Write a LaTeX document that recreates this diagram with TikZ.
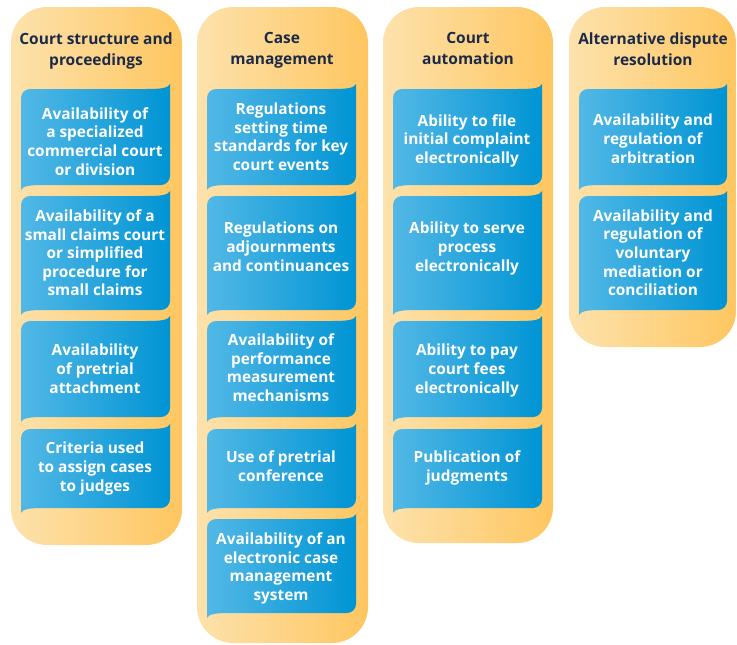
\documentclass[tikz,border=0pt]{standalone}
\usepackage{fontspec}
\setmainfont{Open Sans}
\definecolor{colL}{HTML}{FDE2AC}
\definecolor{colR}{HTML}{FEC660}
\definecolor{blL}{HTML}{52B8E6}
\definecolor{blM}{HTML}{08A3DE}
\definecolor{blR}{HTML}{0094D4}
\definecolor{navy}{HTML}{1B2A48}
\tikzset{
  colfill/.style={left color=colL, right color=colR, rounded corners=36pt},
  bluefill/.style={left color=blL, middle color=blM, right color=blR},
  boxtext/.style={text=white, align=center, inner sep=0pt, yshift=-3.5pt, font=\bfseries\fontsize{15.4}{18.6}\selectfont,
    execute at begin node=\strut, execute at end node=\strut},
  titletext/.style={text=navy, align=center, inner sep=0pt, yshift=-3.5pt, font=\bfseries\fontsize{15.5}{21}\selectfont,
    execute at begin node=\strut, execute at end node=\strut},
}
\newcommand\bbox[4]{% L R T B
  \path[bluefill] (#1,{#3+9}) .. controls (#1,{#3+4}) and ({#1+4},#3) .. ({#1+9},#3)
    -- ({#2-24},#3) .. controls ({#2-8},#3) and ({#2-2},{#3-1}) .. (#2,{#3-5})
    -- (#2,{#4-9}) .. controls (#2,{#4-4}) and ({#2-4},#4) .. ({#2-9},#4)
    -- ({#1+24},#4) .. controls ({#1+8},#4) and ({#1+2},{#4+1}) .. (#1,{#4+5}) -- cycle;}
\begin{document}
\begin{tikzpicture}[x=1pt,y=-1pt]
\useasboundingbox (0,0) rectangle (737,645);
% columns
\path[colfill] (11,7) rectangle (182,545);
\path[colfill] (197,7) rectangle (368,643);
\path[colfill] (383,7) rectangle (553,543);
\path[colfill] (569,7) rectangle (736,347);
% column 1
\bbox{21}{170}{89}{185}
\bbox{21}{170}{196}{310}
\bbox{21}{170}{321}{417}
\bbox{21}{170}{429}{508}
% column 2
\bbox{207}{356}{89}{185}
\bbox{207}{356}{196}{310}
\bbox{207}{356}{321}{417}
\bbox{207}{356}{429}{508}
\bbox{207}{356}{519}{613}
% column 3
\bbox{393}{542}{89}{185}
\bbox{393}{542}{196}{310}
\bbox{393}{542}{321}{417}
\bbox{393}{542}{429}{508}
% column 4
\bbox{579}{727}{89}{185}
\bbox{579}{727}{196}{310}
% titles
\node[titletext] (t1) at (96,48.5) {Court structure and\\proceedings};
\node[titletext] (t2) at (282,48.5) {Case\\management};
\node[titletext] (t3) at (468,48.5) {Court\\automation};
\node[titletext] (t4) at (653,48.5) {Alternative dispute\\resolution};
% column 1 texts
\node[boxtext] (a1) at (95,140.5) {Availability of\\a specialized\\commercial court\\or division};
\node[boxtext] (a2) at (95,252) {Availability of a\\small claims court\\or simplified\\procedure for\\small claims};
\node[boxtext] (a3) at (95,368) {Availability\\of pretrial\\attachment};
\node[boxtext] (a4) at (95,466) {Criteria used\\to assign cases\\to judges};
% column 2 texts
\node[boxtext] (b1) at (281,136) {Regulations\\setting time\\standards for key\\court events};
\node[boxtext] (b2) at (281,246) {Regulations on\\adjournments\\and continuances};
\node[boxtext] (b3) at (281,367) {Availability of\\performance\\measurement\\mechanisms};
\node[boxtext] (b4) at (281,465.5) {Use of pretrial\\conference};
\node[boxtext] (b5) at (281,566) {Availability of an\\electronic case\\management\\system};
% column 3 texts
\node[boxtext] (c1) at (467,138) {Ability to file\\initial complaint\\electronically};
\node[boxtext] (c2) at (467,246) {Ability to serve\\process\\electronically};
\node[boxtext] (c3) at (467,368) {Ability to pay\\court fees\\electronically};
\node[boxtext] (c4) at (467,465.5) {Publication of\\judgments};
% column 4 texts
\node[boxtext] (d1) at (653,138) {Availability and\\regulation of\\arbitration};
\node[boxtext] (d2) at (653,252) {Availability and\\regulation of\\voluntary\\mediation or\\conciliation};
\end{tikzpicture}
\end{document}
